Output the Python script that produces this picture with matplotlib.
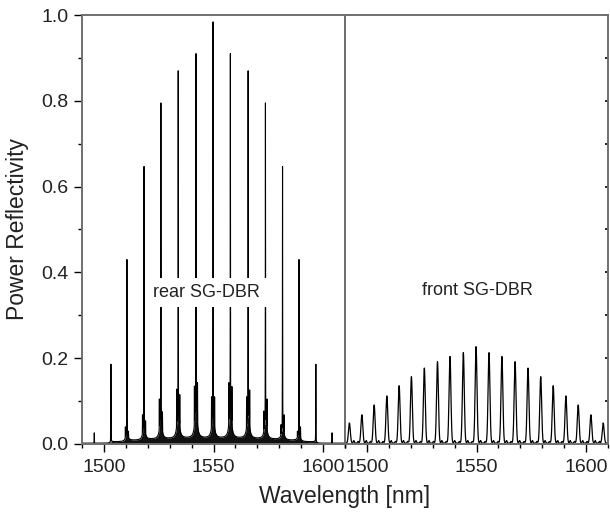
import numpy as np
import matplotlib
matplotlib.use("Agg")
import matplotlib.pyplot as plt
from matplotlib.ticker import MultipleLocator, FormatStrFormatter

plt.rcParams['font.family'] = ['Liberation Sans', 'DejaVu Sans']

# Rear sampled-grating DBR: reflection comb lines (nm, power reflectivity)
rear_peak_nm = [1495.6, 1503.2, 1510.5, 1518.3, 1526.0, 1533.9, 1542.0, 1549.8,
                1557.7, 1565.8, 1573.7, 1581.5, 1589.0, 1596.7, 1604.1]
rear_peak_R = [0.026, 0.186, 0.430, 0.647, 0.795, 0.870, 0.910, 0.984,
               0.910, 0.870, 0.795, 0.647, 0.430, 0.186, 0.026]
# side-lobe level just left / right of each comb line
rear_lobe_left = [0.0, 0.004, 0.040, 0.068, 0.105, 0.128, 0.135, 0.110,
                  0.143, 0.110, 0.077, 0.045, 0.030, 0.004, 0.0]
rear_lobe_right = [0.0, 0.004, 0.030, 0.054, 0.075, 0.115, 0.143, 0.110,
                   0.134, 0.126, 0.105, 0.068, 0.040, 0.004, 0.0]
# ripple floor between neighbouring comb lines
rear_gap_floor = [0.002, 0.005, 0.008, 0.010, 0.011, 0.012, 0.012,
                  0.012, 0.012, 0.011, 0.010, 0.008, 0.005, 0.002]

# Front sampled-grating DBR: reflection comb lines
front_peak_nm = [1492.0, 1497.7, 1503.3, 1509.1, 1514.7, 1520.3, 1526.2,
                 1532.2, 1537.9, 1544.0, 1549.8, 1555.7, 1561.6, 1567.6,
                 1573.5, 1579.3, 1585.0, 1590.8, 1596.4, 1602.2, 1607.8]
front_peak_R = [0.047, 0.066, 0.089, 0.110, 0.134, 0.155, 0.175, 0.190,
                0.202, 0.211, 0.225, 0.211, 0.202, 0.190, 0.175, 0.155,
                0.134, 0.110, 0.089, 0.066, 0.047]
front_ripple_R = [0.006, 0.004]

x_ticks = [1500, 1550, 1600]
y_ticks = [0.0, 0.2, 0.4, 0.6, 0.8, 1.0]
wl_min, wl_max = 1490, 1610

spine_col = '#6f6f6f'


def rear_spectrum():
    x = np.union1d(np.arange(wl_min, wl_max + 0.005, 0.01), rear_peak_nm)
    c = np.asarray(rear_peak_nm)
    env = np.full_like(x, 0.002)
    d0, p = 0.5, 1.6
    for i in range(len(c) - 1):
        m = (x > c[i]) & (x < c[i + 1])
        fl = rear_gap_floor[i]
        dl = np.maximum(x[m] - c[i], d0)
        dr = np.maximum(c[i + 1] - x[m], d0)
        env[m] = (fl + 0.45 * rear_lobe_right[i] * (d0 / dl) ** p
                  + 0.45 * rear_lobe_left[i + 1] * (d0 / dr) ** p)
    line = env.copy()
    hw = 0.05
    for ci, h, ll, lr in zip(c, rear_peak_R, rear_lobe_left, rear_lobe_right):
        line = np.maximum(line, h / (1 + ((x - ci) / hw) ** 2))
        if ll > 0:
            line = np.maximum(line, ll / (1 + ((x - ci + 0.7) / 0.06) ** 2))
        if lr > 0:
            line = np.maximum(line, lr / (1 + ((x - ci - 0.7) / 0.06) ** 2))
    return x, env, line


def front_spectrum():
    x = np.arange(wl_min, wl_max + 0.005, 0.02)
    y = np.full_like(x, 0.002)
    c = np.asarray(front_peak_nm)
    for ci, h in zip(c, front_peak_R):
        y += h * np.exp(-0.5 * ((x - ci) / 0.42) ** 2)
    for i in range(len(c) - 1):
        gap = c[i + 1] - c[i]
        for frac, h in zip([0.35, 0.7], front_ripple_R):
            y += h * np.exp(-0.5 * ((x - c[i] - frac * gap) / 0.25) ** 2)
    return x, y


fig = plt.figure(figsize=(6.1, 5.13), dpi=100)
W, H = 610, 513
axL = fig.add_axes([82 / W, 1 - 444 / H, 263 / W, 429 / H])
axR = fig.add_axes([345 / W, 1 - 444 / H, 263 / W, 429 / H])

xr, env, line = rear_spectrum()
axL.fill_between(xr, 0, env, color='#111111', lw=0)
axL.plot(xr, line, color='black', lw=0.8)

xf, yf = front_spectrum()
axR.plot(xf, yf, color='black', lw=0.9)

for ax in (axL, axR):
    ax.set_xlim(wl_min, wl_max)
    ax.set_ylim(0, 1.0)
    ax.set_xticks(x_ticks)
    ax.xaxis.set_minor_locator(MultipleLocator(10))
    ax.set_yticks(y_ticks)
    ax.yaxis.set_minor_locator(MultipleLocator(0.1))
    for s in ax.spines.values():
        s.set_color(spine_col)
        s.set_linewidth(1.4)
    ax.tick_params(axis='x', which='both', direction='out', top=False,
                   bottom=True, color='black', width=1, labelsize=14,
                   pad=5, labelcolor='#222222')
    ax.tick_params(axis='x', which='major', length=5.5)
    ax.tick_params(axis='x', which='minor', length=3)

axL.yaxis.set_major_formatter(FormatStrFormatter('%.1f'))
axL.tick_params(axis='y', which='both', direction='out', left=True,
                right=False, color='black', width=1, labelsize=14, pad=4,
                labelcolor='#222222')
axL.tick_params(axis='y', which='major', length=5.5)
axL.tick_params(axis='y', which='minor', length=3)

axR.tick_params(axis='y', which='both', direction='in', left=False,
                right=True, labelleft=False, length=2.5, width=1.2,
                color='black')

axL.set_ylabel('Power Reflectivity', fontsize=16.5, labelpad=9,
               color='#222222')
fig.text(345 / W, 1 - 497 / H, 'Wavelength [nm]', fontsize=16.5,
         ha='center', va='center', color='#222222')

axL.text(1547, 0.343, 'rear SG-DBR', fontsize=13, ha='center', va='baseline',
         color='#222222',
         bbox=dict(boxstyle='square,pad=0.35', fc='white', ec='none'),
         zorder=5)
axR.text(1550.5, 0.347, 'front SG-DBR', fontsize=13, ha='center',
         va='baseline', color='#222222', zorder=5)

fig.savefig('out.png', dpi=100)
